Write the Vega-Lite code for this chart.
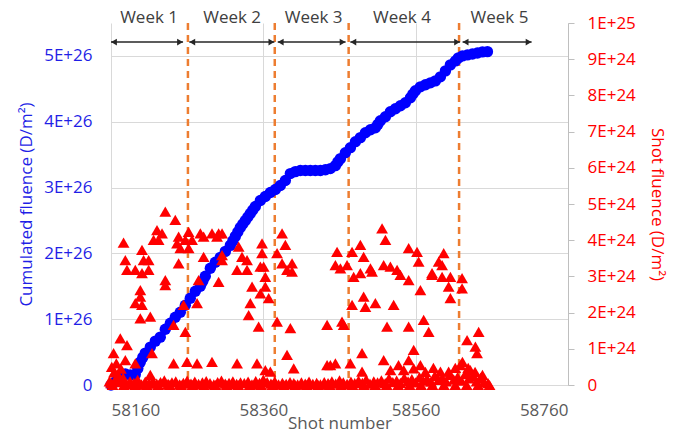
{
  "$schema": "https://vega.github.io/schema/vega-lite/v6.json",
  "width": 457,
  "height": 362,
  "autosize": {"type": "none"},
  "padding": {"left": 111, "top": 23, "right": 110, "bottom": 49},
  "background": "white",
  "config": {"view": {"stroke": null}, "font": "Open Sans", "axis": {"gridColor": "#D9D9D9", "gridWidth": 1}},
  "datasets": {
    "bounds": [{"shot": 58261}, {"shot": 58375}, {"shot": 58472}, {"shot": 58617}],
    "weeks": [
      {"week": "Week 1", "x1": 58160, "x2": 58254.6, "xl": 58210},
      {"week": "Week 2", "x1": 58262.8, "x2": 58374.5, "xl": 58319},
      {"week": "Week 3", "x1": 58378.9, "x2": 58468.0, "xl": 58426},
      {"week": "Week 4", "x1": 58474.2, "x2": 58618.3, "xl": 58542},
      {"week": "Week 5", "x1": 58621.6, "x2": 58712.2, "xl": 58670}
    ],
    "cum": [
      {"shot": 58160, "cum": 0}, {"shot": 58165.6, "cum": 0.045e26}, {"shot": 58172.2, "cum": 0.106e26},
      {"shot": 58178.8, "cum": 0.167e26}, {"shot": 58185.3, "cum": 0.152e26}, {"shot": 58191.9, "cum": 0.16e26},
      {"shot": 58195.2, "cum": 0.25e26}, {"shot": 58198.5, "cum": 0.348e26}, {"shot": 58201.8, "cum": 0.42e26},
      {"shot": 58205.0, "cum": 0.485e26}, {"shot": 58211.6, "cum": 0.576e26}, {"shot": 58218.2, "cum": 0.667e26},
      {"shot": 58224.7, "cum": 0.727e26}, {"shot": 58231.3, "cum": 0.848e26}, {"shot": 58237.9, "cum": 0.939e26},
      {"shot": 58244.4, "cum": 1.03e26}, {"shot": 58251.0, "cum": 1.106e26}, {"shot": 58257.6, "cum": 1.212e26},
      {"shot": 58264.1, "cum": 1.318e26}, {"shot": 58270.7, "cum": 1.424e26}, {"shot": 58277.3, "cum": 1.5e26},
      {"shot": 58280.5, "cum": 1.576e26}, {"shot": 58283.8, "cum": 1.652e26}, {"shot": 58290.4, "cum": 1.773e26},
      {"shot": 58297.0, "cum": 1.864e26}, {"shot": 58303.5, "cum": 1.939e26}, {"shot": 58310.1, "cum": 2.03e26},
      {"shot": 58316.7, "cum": 2.121e26}, {"shot": 58320.0, "cum": 2.19e26}, {"shot": 58323.2, "cum": 2.258e26},
      {"shot": 58326.5, "cum": 2.326e26}, {"shot": 58329.8, "cum": 2.394e26}, {"shot": 58333.1, "cum": 2.447e26},
      {"shot": 58336.4, "cum": 2.5e26}, {"shot": 58339.7, "cum": 2.553e26}, {"shot": 58342.9, "cum": 2.606e26},
      {"shot": 58346.2, "cum": 2.66e26}, {"shot": 58349.5, "cum": 2.712e26}, {"shot": 58356.1, "cum": 2.803e26},
      {"shot": 58362.6, "cum": 2.864e26}, {"shot": 58369.2, "cum": 2.924e26}, {"shot": 58375.8, "cum": 2.97e26},
      {"shot": 58382.3, "cum": 3.03e26}, {"shot": 58388.9, "cum": 3.106e26}, {"shot": 58395.5, "cum": 3.212e26},
      {"shot": 58402.0, "cum": 3.242e26}, {"shot": 58408.6, "cum": 3.258e26}, {"shot": 58415.2, "cum": 3.258e26},
      {"shot": 58421.7, "cum": 3.258e26}, {"shot": 58428.3, "cum": 3.258e26}, {"shot": 58434.9, "cum": 3.258e26},
      {"shot": 58441.5, "cum": 3.27e26}, {"shot": 58448.0, "cum": 3.288e26}, {"shot": 58454.6, "cum": 3.333e26},
      {"shot": 58457.9, "cum": 3.39e26}, {"shot": 58461.2, "cum": 3.439e26}, {"shot": 58467.7, "cum": 3.53e26},
      {"shot": 58474.3, "cum": 3.606e26}, {"shot": 58480.9, "cum": 3.697e26}, {"shot": 58487.4, "cum": 3.758e26},
      {"shot": 58494.0, "cum": 3.833e26}, {"shot": 58500.6, "cum": 3.879e26}, {"shot": 58507.1, "cum": 3.909e26},
      {"shot": 58510.4, "cum": 3.96e26}, {"shot": 58513.7, "cum": 4.015e26}, {"shot": 58520.3, "cum": 4.076e26},
      {"shot": 58526.8, "cum": 4.152e26}, {"shot": 58533.4, "cum": 4.197e26}, {"shot": 58540.0, "cum": 4.242e26},
      {"shot": 58546.5, "cum": 4.288e26}, {"shot": 58553.1, "cum": 4.364e26}, {"shot": 58556.4, "cum": 4.42e26},
      {"shot": 58559.7, "cum": 4.47e26}, {"shot": 58566.2, "cum": 4.53e26}, {"shot": 58572.8, "cum": 4.561e26},
      {"shot": 58579.4, "cum": 4.591e26}, {"shot": 58585.9, "cum": 4.621e26}, {"shot": 58592.5, "cum": 4.682e26},
      {"shot": 58599.1, "cum": 4.773e26}, {"shot": 58605.6, "cum": 4.864e26}, {"shot": 58612.2, "cum": 4.924e26},
      {"shot": 58616.1, "cum": 4.97e26}, {"shot": 58621.4, "cum": 5.0e26}, {"shot": 58628.0, "cum": 5.015e26},
      {"shot": 58634.5, "cum": 5.03e26}, {"shot": 58641.1, "cum": 5.045e26}, {"shot": 58647.7, "cum": 5.061e26},
      {"shot": 58654.2, "cum": 5.065e26}
    ],
    "shots": [
      {"shot": 58231.3, "sf": 4.79e24}, {"shot": 58244.4, "sf": 4.56e24}, {"shot": 58176.5, "sf": 3.93e24},
      {"shot": 58220.4, "sf": 4.28e24}, {"shot": 58227.0, "sf": 4.19e24}, {"shot": 58215.9, "sf": 4.01e24},
      {"shot": 58222.5, "sf": 4.01e24}, {"shot": 58248.8, "sf": 4.10e24}, {"shot": 58246.7, "sf": 3.91e24},
      {"shot": 58257.6, "sf": 4.01e24}, {"shot": 58261.9, "sf": 4.23e24}, {"shot": 58266.4, "sf": 4.01e24},
      {"shot": 58277.3, "sf": 4.19e24}, {"shot": 58281.6, "sf": 4.10e24}, {"shot": 58292.6, "sf": 4.19e24},
      {"shot": 58299.2, "sf": 4.10e24}, {"shot": 58251.0, "sf": 3.78e24}, {"shot": 58261.9, "sf": 3.78e24},
      {"shot": 58200.7, "sf": 3.73e24}, {"shot": 58202.8, "sf": 3.45e24}, {"shot": 58178.8, "sf": 3.45e24},
      {"shot": 58181.0, "sf": 3.18e24}, {"shot": 58209.4, "sf": 3.45e24}, {"shot": 58191.9, "sf": 3.18e24},
      {"shot": 58200.7, "sf": 3.09e24}, {"shot": 58209.4, "sf": 3.18e24}, {"shot": 58248.8, "sf": 3.36e24},
      {"shot": 58281.6, "sf": 3.54e24}, {"shot": 58231.3, "sf": 2.90e24}, {"shot": 58231.3, "sf": 2.76e24},
      {"shot": 58275.0, "sf": 2.90e24}, {"shot": 58198.5, "sf": 2.62e24}, {"shot": 58198.5, "sf": 2.44e24},
      {"shot": 58191.9, "sf": 2.26e24}, {"shot": 58200.7, "sf": 2.21e24}, {"shot": 58273.0, "sf": 2.26e24},
      {"shot": 58255.3, "sf": 2.21e24}, {"shot": 58198.5, "sf": 1.84e24}, {"shot": 58211.6, "sf": 1.89e24},
      {"shot": 58242.2, "sf": 1.66e24}, {"shot": 58257.6, "sf": 1.47e24}, {"shot": 58172.2, "sf": 1.29e24},
      {"shot": 58181.0, "sf": 1.10e24}, {"shot": 58163.4, "sf": 0.88e24}, {"shot": 58178.8, "sf": 0.69e24},
      {"shot": 58191.9, "sf": 0.60e24}, {"shot": 58213.8, "sf": 0.88e24}, {"shot": 58242.2, "sf": 0.60e24},
      {"shot": 58259.8, "sf": 0.64e24}, {"shot": 58273.0, "sf": 0.60e24}, {"shot": 58292.6, "sf": 0.64e24},
      {"shot": 58211.6, "sf": 0.28e24}, {"shot": 58301.3, "sf": 4.19e24}, {"shot": 58305.8, "sf": 4.19e24},
      {"shot": 58305.8, "sf": 3.59e24}, {"shot": 58305.8, "sf": 3.45e24}, {"shot": 58327.6, "sf": 3.82e24},
      {"shot": 58332.0, "sf": 3.54e24}, {"shot": 58325.5, "sf": 3.18e24}, {"shot": 58338.6, "sf": 3.45e24},
      {"shot": 58338.6, "sf": 3.18e24}, {"shot": 58358.3, "sf": 3.91e24}, {"shot": 58358.3, "sf": 3.64e24},
      {"shot": 58360.4, "sf": 3.27e24}, {"shot": 58356.1, "sf": 3.27e24}, {"shot": 58362.6, "sf": 2.99e24},
      {"shot": 58362.6, "sf": 2.72e24}, {"shot": 58345.2, "sf": 2.72e24}, {"shot": 58356.1, "sf": 2.53e24},
      {"shot": 58367.0, "sf": 2.40e24}, {"shot": 58342.9, "sf": 2.26e24}, {"shot": 58340.7, "sf": 1.93e24},
      {"shot": 58378.0, "sf": 3.64e24}, {"shot": 58384.6, "sf": 4.19e24}, {"shot": 58388.9, "sf": 3.87e24},
      {"shot": 58384.6, "sf": 3.36e24}, {"shot": 58397.7, "sf": 3.36e24}, {"shot": 58397.7, "sf": 3.13e24},
      {"shot": 58391.1, "sf": 3.18e24}, {"shot": 58301.3, "sf": 2.85e24}, {"shot": 58353.8, "sf": 1.61e24},
      {"shot": 58378.0, "sf": 1.75e24}, {"shot": 58395.5, "sf": 1.57e24}, {"shot": 58443.7, "sf": 1.66e24},
      {"shot": 58325.5, "sf": 0.60e24}, {"shot": 58351.7, "sf": 0.60e24}, {"shot": 58391.1, "sf": 0.83e24},
      {"shot": 58399.9, "sf": 0.46e24}, {"shot": 58443.7, "sf": 0.55e24}, {"shot": 58362.6, "sf": 0.41e24},
      {"shot": 58369.2, "sf": 0.37e24}, {"shot": 58515.9, "sf": 4.33e24}, {"shot": 58520.3, "sf": 4.01e24},
      {"shot": 58456.8, "sf": 3.68e24}, {"shot": 58476.5, "sf": 3.68e24}, {"shot": 58487.4, "sf": 3.87e24},
      {"shot": 58491.7, "sf": 3.54e24}, {"shot": 58454.6, "sf": 3.31e24}, {"shot": 58461.2, "sf": 3.22e24},
      {"shot": 58469.9, "sf": 3.31e24}, {"shot": 58478.6, "sf": 2.99e24}, {"shot": 58487.4, "sf": 3.09e24},
      {"shot": 58500.6, "sf": 3.22e24}, {"shot": 58502.7, "sf": 3.13e24}, {"shot": 58518.0, "sf": 3.31e24},
      {"shot": 58526.8, "sf": 3.27e24}, {"shot": 58535.6, "sf": 3.18e24}, {"shot": 58539.9, "sf": 3.04e24},
      {"shot": 58550.8, "sf": 2.90e24}, {"shot": 58550.8, "sf": 3.78e24}, {"shot": 58561.8, "sf": 3.68e24},
      {"shot": 58563.9, "sf": 3.41e24}, {"shot": 58581.5, "sf": 3.04e24}, {"shot": 58590.2, "sf": 3.41e24},
      {"shot": 58566.2, "sf": 2.62e24}, {"shot": 58476.5, "sf": 2.21e24}, {"shot": 58491.7, "sf": 2.44e24},
      {"shot": 58494.0, "sf": 2.16e24}, {"shot": 58507.1, "sf": 2.26e24}, {"shot": 58531.1, "sf": 2.21e24},
      {"shot": 58463.3, "sf": 1.75e24}, {"shot": 58465.5, "sf": 1.66e24}, {"shot": 58522.4, "sf": 1.61e24},
      {"shot": 58550.8, "sf": 1.61e24}, {"shot": 58570.5, "sf": 1.80e24}, {"shot": 58577.1, "sf": 1.47e24},
      {"shot": 58489.6, "sf": 0.88e24}, {"shot": 58518.0, "sf": 0.69e24}, {"shot": 58557.4, "sf": 0.97e24},
      {"shot": 58448.0, "sf": 0.55e24}, {"shot": 58454.6, "sf": 0.60e24}, {"shot": 58474.3, "sf": 0.60e24},
      {"shot": 58489.6, "sf": 0.37e24}, {"shot": 58550.8, "sf": 0.69e24}, {"shot": 58557.4, "sf": 0.46e24},
      {"shot": 58544.3, "sf": 0.41e24}, {"shot": 58596.8, "sf": 3.64e24}, {"shot": 58594.7, "sf": 3.31e24},
      {"shot": 58581.5, "sf": 3.09e24}, {"shot": 58594.7, "sf": 2.99e24}, {"shot": 58605.6, "sf": 2.99e24},
      {"shot": 58603.3, "sf": 2.72e24}, {"shot": 58605.6, "sf": 2.40e24}, {"shot": 58620.9, "sf": 2.95e24},
      {"shot": 58620.9, "sf": 2.67e24}, {"shot": 58642.7, "sf": 1.47e24}, {"shot": 58627.5, "sf": 1.24e24},
      {"shot": 58638.4, "sf": 1.06e24}, {"shot": 58640.6, "sf": 0.88e24}, {"shot": 58618.7, "sf": 0.55e24},
      {"shot": 58631.8, "sf": 0.41e24}, {"shot": 58592.5, "sf": 0.37e24}, {"shot": 58603.3, "sf": 0.37e24},
      {"shot": 58527, "sf": 0.41e24}, {"shot": 58537.5, "sf": 0.55e24}, {"shot": 58566.2, "sf": 0.55e24},
      {"shot": 58572.8, "sf": 0.36e24}, {"shot": 58583.3, "sf": 0.47e24}, {"shot": 58612, "sf": 0.47e24},
      {"shot": 58621.4, "sf": 0.64e24}, {"shot": 58629, "sf": 0.47e24}, {"shot": 58638, "sf": 0.36e24},
      {"shot": 58647.7, "sf": 0.28e24},
      {"shot": 58158, "sf": 0.1e24}, {"shot": 58161, "sf": 0.5e24}, {"shot": 58164, "sf": 0.35e24},
      {"shot": 58167, "sf": 0.6e24}, {"shot": 58170, "sf": 0.25e24}, {"shot": 58173, "sf": 0.45e24},
      {"shot": 58176, "sf": 0.2e24}, {"shot": 58168, "sf": 0.15e24},
      {"shot": 58160, "sf": 0.05e24}, {"shot": 58165, "sf": 0.12e24}, {"shot": 58170, "sf": 0.08e24},
      {"shot": 58175, "sf": 0.15e24}, {"shot": 58180, "sf": 0.03e24}, {"shot": 58185, "sf": 0.1e24},
      {"shot": 58190, "sf": 0.06e24}, {"shot": 58195, "sf": 0.14e24}, {"shot": 58200, "sf": 0.02e24},
      {"shot": 58205, "sf": 0.09e24}, {"shot": 58210, "sf": 0.05e24}, {"shot": 58215, "sf": 0.11e24},
      {"shot": 58220, "sf": 0.04e24}, {"shot": 58225, "sf": 0.08e24}, {"shot": 58230, "sf": 0.13e24},
      {"shot": 58235, "sf": 0.03e24}, {"shot": 58240, "sf": 0.07e24}, {"shot": 58245, "sf": 0.1e24},
      {"shot": 58250, "sf": 0.02e24}, {"shot": 58255, "sf": 0.06e24}, {"shot": 58260, "sf": 0.12e24},
      {"shot": 58265, "sf": 0.04e24}, {"shot": 58270, "sf": 0.09e24}, {"shot": 58275, "sf": 0.03e24},
      {"shot": 58280, "sf": 0.07e24}, {"shot": 58285, "sf": 0.11e24}, {"shot": 58290, "sf": 0.05e24},
      {"shot": 58295, "sf": 0.02e24}, {"shot": 58300, "sf": 0.08e24}, {"shot": 58305, "sf": 0.12e24},
      {"shot": 58310, "sf": 0.04e24}, {"shot": 58315, "sf": 0.06e24}, {"shot": 58320, "sf": 0.1e24},
      {"shot": 58325, "sf": 0.03e24}, {"shot": 58330, "sf": 0.07e24}, {"shot": 58335, "sf": 0.05e24},
      {"shot": 58340, "sf": 0.09e24}, {"shot": 58345, "sf": 0.02e24}, {"shot": 58350, "sf": 0.11e24},
      {"shot": 58355, "sf": 0.06e24}, {"shot": 58360, "sf": 0.15e24}, {"shot": 58365, "sf": 0.08e24},
      {"shot": 58370, "sf": 0.04e24}, {"shot": 58375, "sf": 0.1e24}, {"shot": 58380, "sf": 0.02e24},
      {"shot": 58385, "sf": 0.06e24}, {"shot": 58390, "sf": 0.03e24}, {"shot": 58395, "sf": 0.08e24},
      {"shot": 58400, "sf": 0.05e24}, {"shot": 58405, "sf": 0.02e24}, {"shot": 58410, "sf": 0.07e24},
      {"shot": 58415, "sf": 0.04e24}, {"shot": 58420, "sf": 0.09e24}, {"shot": 58425, "sf": 0.03e24},
      {"shot": 58430, "sf": 0.06e24}, {"shot": 58435, "sf": 0.02e24}, {"shot": 58440, "sf": 0.08e24},
      {"shot": 58445, "sf": 0.05e24}, {"shot": 58450, "sf": 0.1e24}, {"shot": 58455, "sf": 0.04e24},
      {"shot": 58460, "sf": 0.13e24}, {"shot": 58465, "sf": 0.07e24}, {"shot": 58470, "sf": 0.03e24},
      {"shot": 58475, "sf": 0.09e24}, {"shot": 58480, "sf": 0.05e24}, {"shot": 58485, "sf": 0.12e24},
      {"shot": 58490, "sf": 0.06e24}, {"shot": 58495, "sf": 0.15e24}, {"shot": 58500, "sf": 0.04e24},
      {"shot": 58505, "sf": 0.1e24}, {"shot": 58510, "sf": 0.07e24}, {"shot": 58515, "sf": 0.13e24},
      {"shot": 58520, "sf": 0.05e24}, {"shot": 58525, "sf": 0.18e24}, {"shot": 58530, "sf": 0.08e24},
      {"shot": 58535, "sf": 0.12e24}, {"shot": 58540, "sf": 0.06e24}, {"shot": 58545, "sf": 0.2e24},
      {"shot": 58550, "sf": 0.1e24}, {"shot": 58555, "sf": 0.16e24}, {"shot": 58560, "sf": 0.07e24},
      {"shot": 58565, "sf": 0.22e24}, {"shot": 58570, "sf": 0.12e24}, {"shot": 58575, "sf": 0.17e24},
      {"shot": 58580, "sf": 0.09e24}, {"shot": 58585, "sf": 0.25e24}, {"shot": 58590, "sf": 0.14e24},
      {"shot": 58595, "sf": 0.2e24}, {"shot": 58600, "sf": 0.1e24}, {"shot": 58605, "sf": 0.28e24},
      {"shot": 58610, "sf": 0.15e24}, {"shot": 58615, "sf": 0.22e24}, {"shot": 58620, "sf": 0.12e24},
      {"shot": 58625, "sf": 0.3e24}, {"shot": 58630, "sf": 0.18e24}, {"shot": 58635, "sf": 0.24e24},
      {"shot": 58640, "sf": 0.1e24}, {"shot": 58645, "sf": 0.2e24}, {"shot": 58650, "sf": 0.08e24},
      {"shot": 58655, "sf": 0.05e24},
      {"shot": 58162, "sf": 0}, {"shot": 58177, "sf": 0}, {"shot": 58192, "sf": 0}, {"shot": 58207, "sf": 0},
      {"shot": 58222, "sf": 0}, {"shot": 58237, "sf": 0}, {"shot": 58252, "sf": 0}, {"shot": 58267, "sf": 0},
      {"shot": 58282, "sf": 0}, {"shot": 58297, "sf": 0}, {"shot": 58312, "sf": 0}, {"shot": 58327, "sf": 0},
      {"shot": 58342, "sf": 0}, {"shot": 58357, "sf": 0}, {"shot": 58372, "sf": 0}, {"shot": 58387, "sf": 0},
      {"shot": 58402, "sf": 0}, {"shot": 58417, "sf": 0}, {"shot": 58432, "sf": 0}, {"shot": 58447, "sf": 0},
      {"shot": 58462, "sf": 0}, {"shot": 58477, "sf": 0}, {"shot": 58492, "sf": 0}, {"shot": 58507, "sf": 0},
      {"shot": 58522, "sf": 0}, {"shot": 58537, "sf": 0}, {"shot": 58552, "sf": 0}, {"shot": 58567, "sf": 0},
      {"shot": 58582, "sf": 0}, {"shot": 58597, "sf": 0}, {"shot": 58612, "sf": 0}, {"shot": 58627, "sf": 0},
      {"shot": 58642, "sf": 0}, {"shot": 58657, "sf": 0}
    ]
  },
  "layer": [
    {
      "layer": [
        {
          "data": {"name": "bounds"},
          "mark": {"type": "rule", "color": "#ED7D31", "strokeWidth": 2.5, "strokeDash": [7, 5]},
          "encoding": {
            "x": {"field": "shot", "type": "quantitative", "scale": {"domain": [58160, 58760], "nice": false, "zero": false}}
          }
        },
        {
          "data": {"name": "cum"},
          "mark": {"type": "point", "shape": "circle", "filled": true, "size": 130, "color": "#0000FF", "opacity": 1},
          "encoding": {
            "x": {
              "field": "shot", "type": "quantitative",
              "scale": {"domain": [58160, 58760], "nice": false, "zero": false},
              "axis": {
                "values": [58160, 58360, 58560, 58760], "format": "d", "grid": true, "ticks": false, "domain": false,
                "labelColor": "#595959", "labelFontSize": 17, "labelPadding": 17,
                "title": "Shot number", "titleColor": "#595959", "titleFontSize": 17, "titleFontWeight": "normal", "titlePadding": -3
              }
            },
            "y": {
              "field": "cum", "type": "quantitative",
              "scale": {"domain": [0, 5.5e26], "nice": false, "zero": true},
              "axis": {
                "orient": "left", "values": [0, 1e26, 2e26, 3e26, 4e26, 5e26],
                "labelExpr": "datum.value == 0 ? '0' : round(datum.value / 1e26) + 'E+26'",
                "grid": true, "ticks": false, "domain": false,
                "labelColor": "#1F1FE6", "labelFontSize": 17, "labelPadding": 19,
                "title": "Cumulated fluence (D/m²)", "titleColor": "#1F1FE6", "titleFontSize": 17, "titleFontWeight": "normal", "titlePadding": 8
              }
            }
          }
        },
        {
          "data": {"name": "weeks"},
          "mark": {"type": "rule", "color": "#262626", "strokeWidth": 1.5},
          "encoding": {
            "x": {"field": "x1", "type": "quantitative", "scale": {"domain": [58160, 58760], "nice": false, "zero": false}},
            "x2": {"field": "x2"},
            "y": {"datum": 5.21e26, "type": "quantitative", "scale": {"domain": [0, 5.5e26], "nice": false}}
          }
        },
        {
          "data": {"name": "weeks"},
          "mark": {"type": "point", "shape": "triangle-left", "filled": true, "size": 45, "color": "#262626", "opacity": 1, "xOffset": 3},
          "encoding": {
            "x": {"field": "x1", "type": "quantitative", "scale": {"domain": [58160, 58760], "nice": false, "zero": false}},
            "y": {"datum": 5.21e26, "type": "quantitative", "scale": {"domain": [0, 5.5e26], "nice": false}}
          }
        },
        {
          "data": {"name": "weeks"},
          "mark": {"type": "point", "shape": "triangle-right", "filled": true, "size": 45, "color": "#262626", "opacity": 1, "xOffset": -3},
          "encoding": {
            "x": {"field": "x2", "type": "quantitative", "scale": {"domain": [58160, 58760], "nice": false, "zero": false}},
            "y": {"datum": 5.21e26, "type": "quantitative", "scale": {"domain": [0, 5.5e26], "nice": false}}
          }
        },
        {
          "data": {"name": "weeks"},
          "mark": {"type": "text", "fontSize": 17, "color": "#404040", "baseline": "middle", "align": "center"},
          "encoding": {
            "x": {"field": "xl", "type": "quantitative", "scale": {"domain": [58160, 58760], "nice": false, "zero": false}},
            "y": {"datum": 5.58e26, "type": "quantitative", "scale": {"domain": [0, 5.5e26], "nice": false}},
            "text": {"field": "week"}
          }
        }
      ]
    },
    {
      "layer": [
        {
          "data": {"name": "shots"},
          "mark": {"type": "point", "shape": "triangle-up", "filled": true, "size": 140, "color": "#FF0000", "opacity": 1},
          "encoding": {
            "x": {"field": "shot", "type": "quantitative", "scale": {"domain": [58160, 58760], "nice": false, "zero": false}},
            "y": {
              "field": "sf", "type": "quantitative",
              "scale": {"domain": [0, 1e25], "nice": false, "zero": true},
              "axis": {
                "orient": "right", "values": [0, 1e24, 2e24, 3e24, 4e24, 5e24, 6e24, 7e24, 8e24, 9e24, 1e25],
                "labelExpr": "datum.value == 0 ? '0' : (datum.value > 9.9e24 ? '1E+25' : round(datum.value / 1e24) + 'E+24')",
                "grid": false, "ticks": true, "tickSize": 6, "tickColor": "#BFBFBF", "domain": true, "domainColor": "#BFBFBF",
                "labelColor": "#FF0000", "labelFontSize": 17, "labelPadding": 13,
                "title": "Shot fluence (D/m²)", "titleColor": "#FF0000", "titleFontSize": 17, "titleFontWeight": "normal", "titlePadding": 12
              }
            }
          }
        }
      ]
    }
  ],
  "resolve": {"scale": {"y": "independent"}}
}
